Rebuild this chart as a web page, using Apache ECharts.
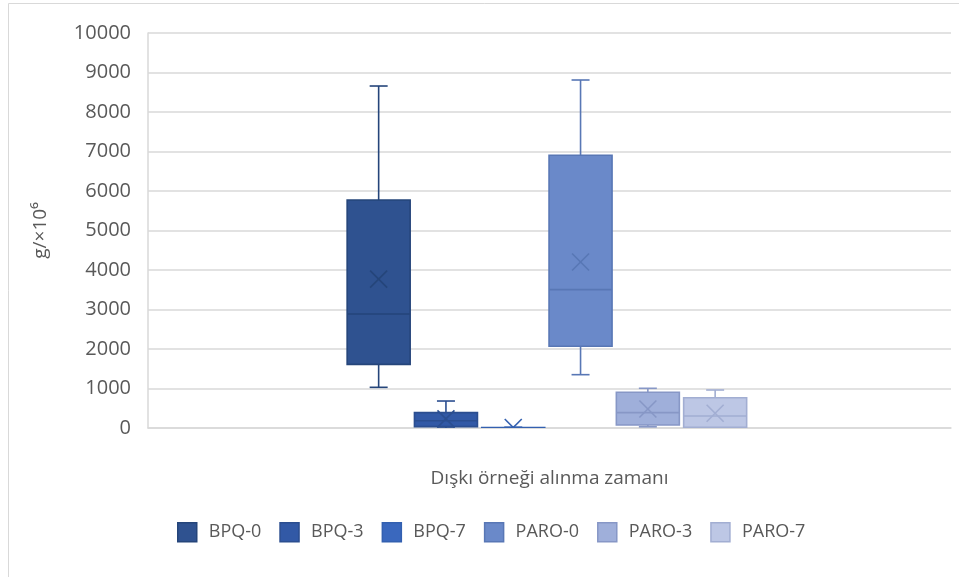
<!DOCTYPE html>
<html>
<head>
<meta charset="utf-8">
<script src="https://cdn.jsdelivr.net/npm/echarts@6/dist/echarts.min.js"></script>
<style>
  html, body { margin: 0; padding: 0; background: #fff; }
  #chart { width: 959px; height: 577px; }
</style>
</head>
<body>
<div id="chart"></div>
<script>
// Box-and-whisker summary per group (g/×10^6)
const groups = ['BPQ-0', 'BPQ-3', 'BPQ-7', 'PARO-0', 'PARO-3', 'PARO-7'];
const minValues    = [1030,   0,  0, 1350,   30,  10];
const q1Values     = [1612,  35,  2, 2068,   76,  18];
const medianValues = [2886, 185,  5, 3502,  388, 304];
const q3Values     = [5772, 388, 10, 6904,  904, 767];
const maxValues    = [8658, 683, 20, 8810, 1005, 962];
const meanValues   = [3770, 230, 12, 4203,  481, 372];

const categories = ['Dışkı örneği alınma zamanı'];
const yTicks = [0, 1000, 2000, 3000, 4000, 5000, 6000, 7000, 8000, 9000, 10000];

// Palette: monochrome blue shades, dark to light
const fills   = ['#2F5290', '#3259A6', '#3A68BE', '#6A89C9', '#9FAFDA', '#BDC7E5'];
const strokes = ['#25457A', '#2B4E90', '#3360B0', '#5877B5', '#8797C6', '#A2AED2'];

const SLOT = 67.3;   // horizontal distance between neighbouring boxes
const BOX = 63;      // box width
const CAP = 18;      // whisker cap width
const MARK = 8.5;    // half size of the mean cross

function renderBox(params, api) {
  const i = params.seriesIndex;
  const cat = api.value(0);
  const cx = api.coord([cat, 0])[0] + (i - 2.5) * SLOT - 2.6;
  const yOf = v => api.coord([cat, v])[1];
  const yMin = yOf(api.value(1));
  const yQ1 = yOf(api.value(2));
  const yMed = yOf(api.value(3));
  const yQ3 = yOf(api.value(4));
  const yMax = yOf(api.value(5));
  const yMean = yOf(api.value(6));
  const ls = { stroke: strokes[i], lineWidth: 1.6, fill: null };
  const line = (x1, y1, x2, y2) => ({ type: 'line', shape: { x1, y1, x2, y2 }, style: ls });
  return {
    type: 'group',
    children: [
      line(cx, yQ3, cx, yMax),
      line(cx, yQ1, cx, yMin),
      line(cx - CAP / 2, yMax, cx + CAP / 2, yMax),
      line(cx - CAP / 2, yMin, cx + CAP / 2, yMin),
      {
        type: 'rect',
        shape: { x: cx - BOX / 2, y: yQ3, width: BOX, height: yQ1 - yQ3 },
        style: { fill: fills[i], stroke: strokes[i], lineWidth: 1.6 }
      },
      line(cx - BOX / 2, yMed, cx + BOX / 2, yMed),
      line(cx - MARK, yMean - MARK, cx + MARK, yMean + MARK),
      line(cx - MARK, yMean + MARK, cx + MARK, yMean - MARK)
    ]
  };
}

const series = groups.map((name, i) => ({
  name,
  type: 'custom',
  clip: true,
  renderItem: renderBox,
  itemStyle: { color: fills[i], borderColor: strokes[i] },
  encode: { x: 0, y: [1, 2, 3, 4, 5, 6] },
  data: [[0, minValues[i], q1Values[i], medianValues[i], q3Values[i], maxValues[i], meanValues[i]]]
}));

const chart = echarts.init(document.getElementById('chart'), null, { renderer: 'canvas' });
chart.setOption({
  animation: false,
  backgroundColor: '#fff',
  textStyle: { fontFamily: 'Open Sans' },
  graphic: [{
    type: 'rect',
    shape: { x: 8.5, y: 3.5, width: 980, height: 600 },
    style: { fill: null, stroke: '#d9d9d9', lineWidth: 1 },
    silent: true
  }],
  grid: { left: 148, right: 8, top: 33, bottom: 149, containLabel: false },
  xAxis: {
    type: 'category',
    data: categories,
    axisLabel: { show: false },
    axisTick: { show: false },
    axisLine: { show: true, lineStyle: { color: '#d9d9d9', width: 1.5 } },
    name: categories[0],
    nameLocation: 'middle',
    nameGap: 41,
    nameTextStyle: { color: '#595959', fontSize: 19, fontFamily: 'Open Sans' }
  },
  yAxis: {
    type: 'value',
    min: yTicks[0],
    max: yTicks[yTicks.length - 1],
    interval: 1000,
    axisLine: { show: true, lineStyle: { color: '#d9d9d9', width: 1.5 } },
    axisTick: { show: false },
    axisLabel: {
      color: '#595959', fontSize: 20, margin: 17, fontFamily: 'Open Sans',
      formatter: v => String(v)
    },
    splitLine: { lineStyle: { color: '#d9d9d9', width: 1.5 } },
    name: 'g/×10⁶',
    nameLocation: 'middle',
    nameRotate: 90,
    nameGap: 98,
    nameTextStyle: { color: '#595959', fontSize: 19, fontFamily: 'Open Sans' }
  },
  legend: {
    left: 177,
    top: 522,
    padding: 0,
    itemWidth: 19,
    itemHeight: 19,
    itemGap: 18,
    icon: 'rect',
    textStyle: { color: '#595959', fontSize: 18, fontFamily: 'Open Sans', padding: [0, 0, 0, 7] },
    data: groups.map((name, i) => ({
      name,
      itemStyle: { color: fills[i], borderColor: strokes[i], borderWidth: 1.5 }
    }))
  },
  series
});
</script>
</body>
</html>
